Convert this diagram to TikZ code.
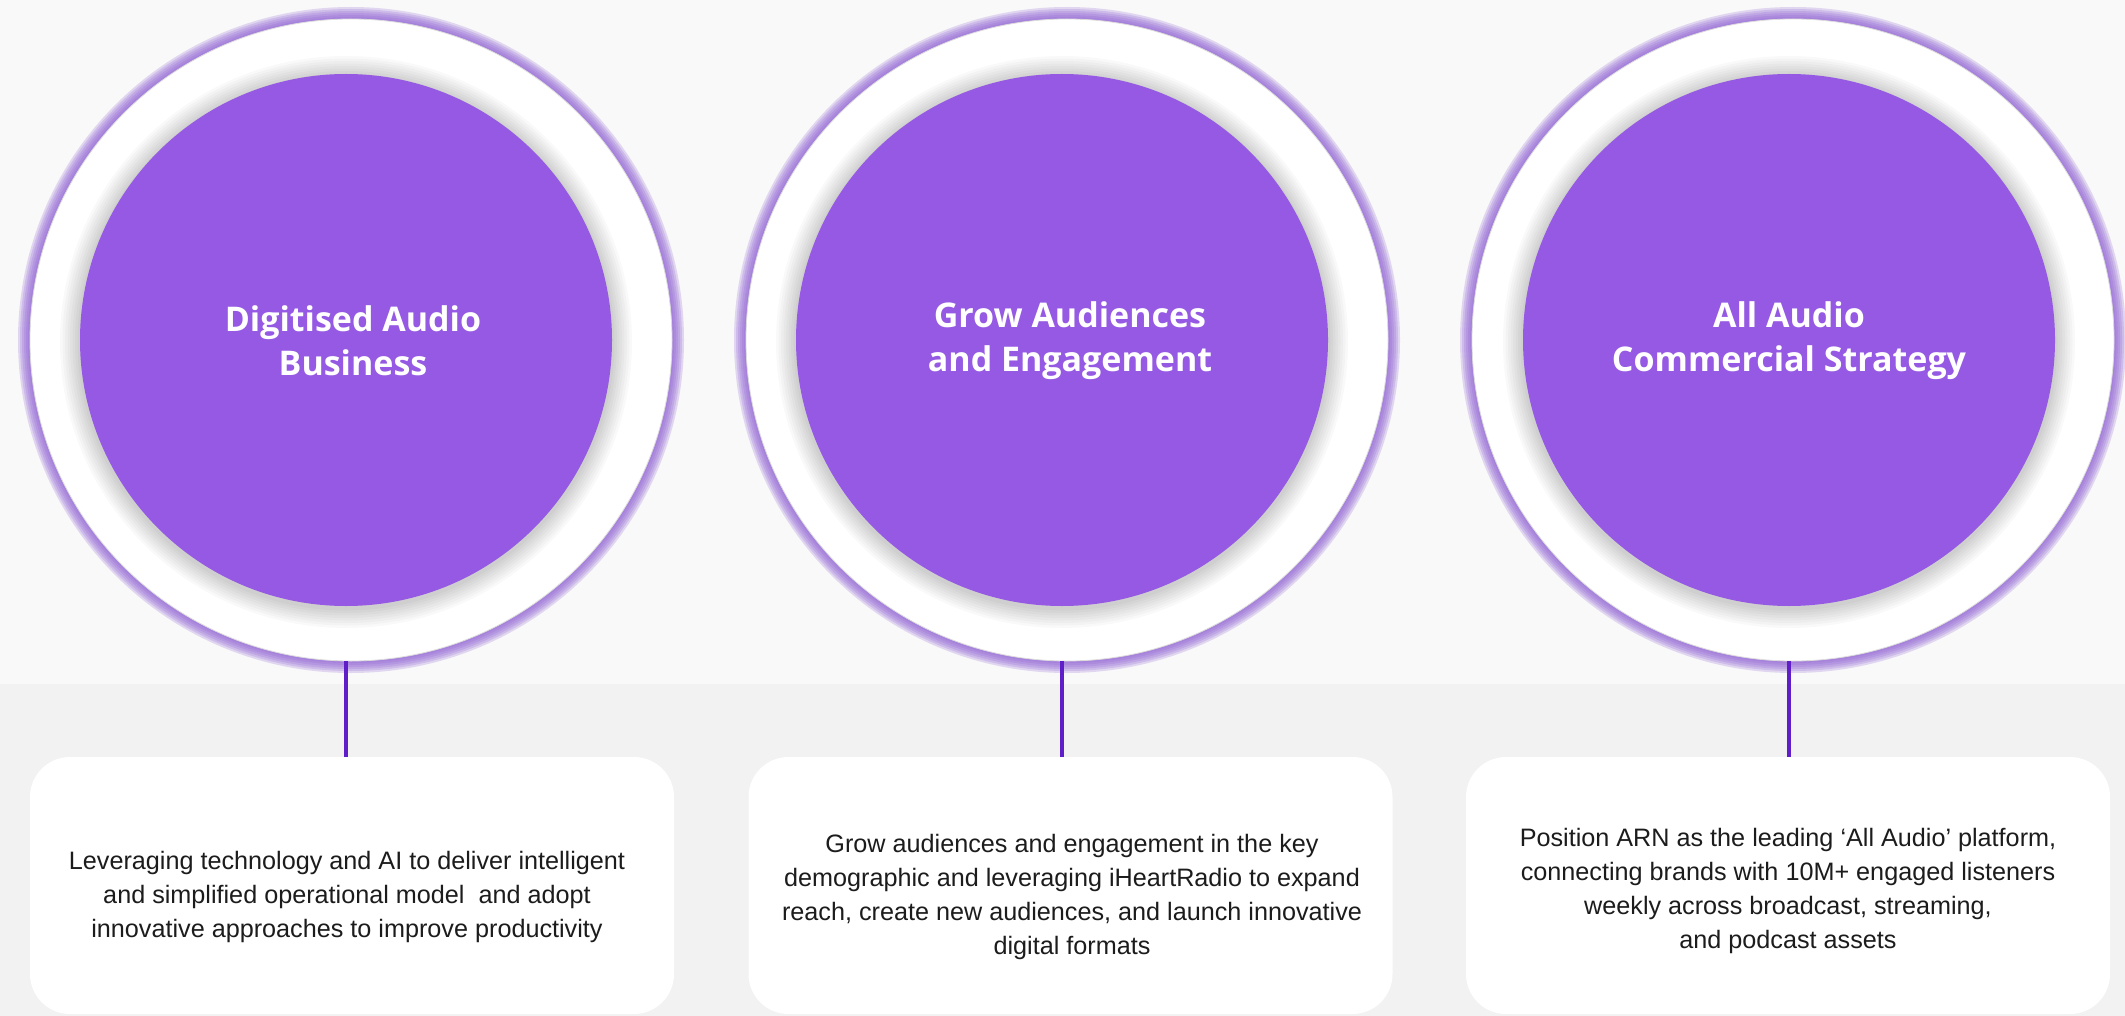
\documentclass[tikz,border=0pt]{standalone}
\usepackage{fontspec}
\setmainfont{Liberation Sans}
\newfontfamily\titlefont{Open Sans}
\definecolor{purp}{HTML}{9559E3}
\definecolor{glowc}{HTML}{9468D6}
\definecolor{connc}{HTML}{5F1EC8}
\definecolor{topbg}{HTML}{F9F9F9}
\definecolor{botbg}{HTML}{F2F2F2}
\definecolor{bodyc}{HTML}{1C1C1C}
\tikzset{
  outerc/.style={circle, minimum size=321pt, inner sep=0pt, outer sep=0pt, fill=white, draw=black!14, line width=0.4pt},
  innerc/.style={circle, minimum size=266pt, inner sep=0pt, outer sep=0pt, fill=purp},
  titletext/.style={text=white, align=center, font=\titlefont\bfseries\fontsize{17}{22}\selectfont},
  card/.style={rectangle, rounded corners=20pt, fill=white, minimum width=322pt, minimum height=128.5pt, inner sep=0pt, outer sep=0pt},
  bodytext/.style={text=bodyc, align=center, font=\fontsize{12.6}{17}\selectfont},
  connline/.style={draw=connc, line width=2pt},
  glowring/.style={draw=glowc, opacity=0.24},
  shadowring/.style={draw=black, opacity=0.022}
}
\begin{document}
\begin{tikzpicture}[x=0.5pt,y=-0.5pt]
\useasboundingbox (0,0) rectangle (2125,1016);
\fill[topbg] (0,0) rectangle (2125,684);
\fill[botbg] (0,684) rectangle (2125,1016);

% glows
\foreach \cx in {351,1067,1793}{
  \foreach \w in {2,4,...,12}{
    \draw[glowring, line width=\w pt] (\cx,340) circle[radius=160.5pt];
  }
}
% outer white circles
\node[outerc] (o1) at (351,340) {};
\node[outerc] (o2) at (1067,340) {};
\node[outerc] (o3) at (1793,340) {};
% inner shadows
\foreach \cx in {346,1062,1789}{
  \foreach \w in {2.5,5,...,20}{
    \draw[shadowring, line width=\w pt] (\cx,342) circle[radius=133pt];
  }
}
% purple circles
\node[innerc] (c1) at (346,340) {};
\node[innerc] (c2) at (1062,340) {};
\node[innerc] (c3) at (1789,340) {};
% titles
\node[titletext] (t1) at (353,341) {Digitised Audio\\Business};
\node[titletext] (t2) at (1070,341) {Grow Audiences\\and Engagement};
\node[titletext] (t3) at (1789,341) {All Audio\\Commercial Strategy};

% cards
\node[card] (b1) at (352,885.5) {};
\node[card] (b2) at (1070.5,885.5) {};
\node[card] (b3) at (1788,885.5) {};
\node[bodytext] (d1) at (347,897) {Leveraging technology and AI to deliver intelligent\\and simplified operational model\ \ and adopt\\innovative approaches to improve productivity};
\node[bodytext] (d2) at (1072,897) {Grow audiences and engagement in the key\\demographic and leveraging iHeartRadio to expand\\reach, create new audiences, and launch innovative\\digital formats};
\node[bodytext] (d3) at (1788,891) {Position ARN as the leading ‘All Audio’ platform,\\connecting brands with 10M+ engaged listeners\\weekly across broadcast, streaming,\\and podcast assets};

% connectors
\draw[connline] (c1 |- o1.south) -- (c1 |- b1.north);
\draw[connline] (c2 |- o2.south) -- (c2 |- b2.north);
\draw[connline] (c3 |- o3.south) -- (c3 |- b3.north);
\end{tikzpicture}
\end{document}
